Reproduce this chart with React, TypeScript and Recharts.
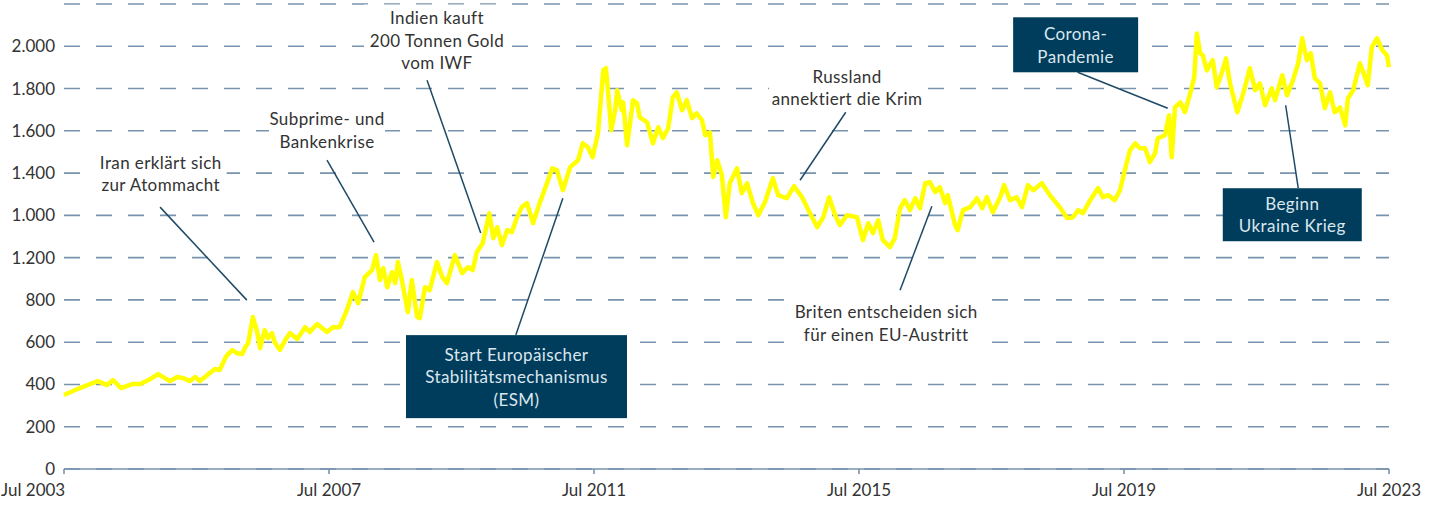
import React from "react";
import { LineChart, Line, XAxis, YAxis, CartesianGrid, ReferenceLine, ReferenceDot } from "recharts";

// decimal years (Jul 2003 = 2003.5)
const dates = [
  2003.5, 2003.74, 2003.94, 2004.01, 2004.15, 2004.24, 2004.36, 2004.53, 2004.65, 2004.8, 2004.92,
  2005.1, 2005.21, 2005.3, 2005.4, 2005.48, 2005.55, 2005.66, 2005.78, 2005.85, 2005.95,
  2006.04, 2006.11, 2006.19, 2006.23, 2006.28, 2006.35, 2006.41, 2006.46, 2006.53, 2006.58, 2006.64, 2006.68, 2006.76, 2006.84, 2006.91,
  2007.02, 2007.14, 2007.21, 2007.32, 2007.47, 2007.56, 2007.66, 2007.77, 2007.86, 2007.94,
  2008.04, 2008.15, 2008.21, 2008.27, 2008.32, 2008.38, 2008.45, 2008.5, 2008.54, 2008.6, 2008.69, 2008.75, 2008.83, 2008.87, 2008.95,
  2009.02, 2009.13, 2009.21, 2009.28, 2009.4, 2009.51, 2009.6, 2009.67, 2009.73, 2009.82, 2009.92, 2009.98,
  2010.04, 2010.11, 2010.19, 2010.26, 2010.34, 2010.41, 2010.49, 2010.58, 2010.68, 2010.79, 2010.87, 2010.94,
  2011.03, 2011.14, 2011.26, 2011.33, 2011.41, 2011.48, 2011.56, 2011.64, 2011.68, 2011.71, 2011.76, 2011.82, 2011.85, 2011.92, 2011.94,
  2012.0, 2012.09, 2012.15, 2012.19, 2012.3, 2012.39, 2012.47, 2012.54, 2012.62, 2012.69, 2012.75, 2012.83, 2012.9, 2012.98,
  2013.05, 2013.13, 2013.18, 2013.25, 2013.3, 2013.36, 2013.43, 2013.49, 2013.55, 2013.66, 2013.73, 2013.81, 2013.9, 2013.98,
  2014.08, 2014.2, 2014.28, 2014.41, 2014.52, 2014.64, 2014.76, 2014.87, 2014.96,
  2015.05, 2015.14, 2015.21, 2015.32, 2015.47, 2015.56, 2015.64, 2015.71, 2015.79, 2015.86, 2015.97,
  2016.04, 2016.12, 2016.19, 2016.27, 2016.35, 2016.42, 2016.5, 2016.57, 2016.65, 2016.72, 2016.8, 2016.84, 2016.95, 2016.99,
  2017.07, 2017.18, 2017.28, 2017.36, 2017.43, 2017.52, 2017.63, 2017.69, 2017.78, 2017.88, 2017.96,
  2018.05, 2018.13, 2018.26, 2018.38, 2018.53, 2018.64, 2018.73, 2018.81, 2018.88, 2018.99,
  2019.11, 2019.18, 2019.26, 2019.36, 2019.44, 2019.52, 2019.59, 2019.67, 2019.74, 2019.82, 2019.89, 2019.97,
  2020.01, 2020.12, 2020.18, 2020.22, 2020.27, 2020.35, 2020.42, 2020.5, 2020.56, 2020.6, 2020.65, 2020.69, 2020.75, 2020.84, 2020.9, 2020.98,
  2021.04, 2021.1, 2021.21, 2021.3, 2021.4, 2021.48, 2021.55, 2021.63, 2021.73, 2021.78, 2021.89, 2021.96,
  2022.05, 2022.13, 2022.19, 2022.26, 2022.32, 2022.38, 2022.46, 2022.53, 2022.61, 2022.68, 2022.76, 2022.84, 2022.88, 2022.96,
  2023.06, 2023.14, 2023.18, 2023.24, 2023.32, 2023.4, 2023.47, 2023.5,
];

const prices = [
  350, 383, 407, 416, 397, 421, 383, 402, 402, 425, 449,
  416, 435, 430, 416, 435, 416, 444, 473, 468, 534,
  563, 548, 544, 572, 596, 719, 657, 572, 657, 619, 643, 600, 563, 610, 643,
  615, 671, 648, 686, 648, 671, 671, 752, 837, 785,
  908, 941, 1012, 894, 950, 860, 931, 879, 979, 894, 742, 894, 719, 714, 860,
  846, 979, 908, 879, 1012, 927, 955, 941, 1026, 1068, 1210, 1092,
  1144, 1059, 1130, 1121, 1191, 1239, 1258, 1163, 1258, 1352, 1423, 1414,
  1319, 1428, 1461, 1541, 1522, 1475, 1589, 1886, 1896, 1792, 1603, 1697, 1792, 1697, 1735,
  1532, 1745, 1730, 1664, 1641, 1541, 1617, 1565, 1612, 1759, 1782, 1697, 1745, 1660,
  1683, 1650, 1579, 1593, 1381, 1461, 1390, 1191, 1352, 1423, 1305, 1352, 1258, 1201,
  1262, 1376, 1296, 1281, 1338, 1286, 1210, 1144, 1191,
  1286, 1201, 1154, 1201, 1191, 1083, 1163, 1116, 1177, 1083, 1050,
  1092, 1234, 1272, 1225, 1281, 1234, 1352, 1357, 1310, 1333, 1258, 1296, 1154, 1130,
  1225, 1239, 1281, 1234, 1286, 1215, 1286, 1343, 1272, 1286, 1239,
  1343, 1319, 1352, 1296, 1239, 1187, 1191, 1225, 1210, 1272,
  1329, 1286, 1296, 1272, 1319, 1423, 1508, 1541, 1518, 1518, 1452, 1494,
  1565, 1579, 1674, 1475, 1711, 1735, 1688, 1778, 1853, 2061, 1967, 1957, 1886, 1934, 1806, 1877,
  1943, 1825, 1688, 1778, 1896, 1792, 1825, 1721, 1801, 1745, 1863, 1768,
  1839, 1920, 2038, 1934, 1967, 1849, 1825, 1707, 1782, 1688, 1711, 1626, 1754, 1792,
  1920, 1853, 1816, 1995, 2038, 1981, 1957, 1901,
];

const yTicks = [0, 200, 400, 600, 800, 1000, 1200, 1400, 1600, 1800, 2000];
const yTickLabels = ["0", "200", "400", "600", "800", "1.200", "1.000", "1.400", "1.600", "1.800", "2.000"];
const xTicks = [2003.5, 2007.5, 2011.5, 2015.5, 2019.5, 2023.5];
const xTickLabels = ["Jul 2003", "Jul 2007", "Jul 2011", "Jul 2015", "Jul 2019", "Jul 2023"];

// annotations: text lines, anchor (center) in data coords, leader segment in data coords
const noteLines = [
  ["Iran erklärt sich", "zur Atommacht"],
  ["Subprime- und", "Bankenkrise"],
  ["Indien kauft", "200 Tonnen Gold", "vom IWF"],
  ["Start Europäischer", "Stabilitätsmechanismus", "(ESM)"],
  ["Russland", "annektiert die Krim"],
  ["Briten entscheiden sich", "für einen EU-Austritt"],
  ["Corona-", "Pandemie"],
  ["Beginn", "Ukraine Krieg"],
];
const noteX = [2004.96, 2007.47, 2009.13, 2010.33, 2015.32, 2015.91, 2018.77, 2022.04];
const noteY = [1397, 1603, 2028, 437, 1806, 690, 2007, 1203];
const noteBoxed = [false, false, false, true, false, false, true, true];
const leaderFromX = [2004.95, 2007.47, 2008.98, 2010.32, 2015.3, 2016.12, 2018.8, 2021.94];
const leaderFromY = [1239, 1461, 1839, 634, 1688, 846, 1877, 1721];
const leaderToX = [2006.26, 2008.18, 2009.79, 2011.03, 2014.61, 2016.6, 2020.16, 2022.13];
const leaderToY = [799, 1073, 1116, 1281, 1366, 1243, 1707, 1329];

const data = dates.map((t, i) => ({ t, price: prices[i] }));

const FONT = "Lato, 'Noto Sans', sans-serif";
const BOX_W = [0, 0, 0, 221, 0, 0, 125, 139];
const BOX_H = [0, 0, 0, 83, 0, 0, 55, 53];
const BG_W = [132, 116, 146, 0, 156, 184, 0, 0];

const NoteShape = (props: any) => {
  const { cx, cy, idx } = props;
  if (cx == null || cy == null) return null;
  const lines = noteLines[idx];
  const lh = 22.5;
  const boxed = noteBoxed[idx];
  const h = boxed ? BOX_H[idx] : lines.length * lh + 4;
  const w = boxed ? BOX_W[idx] : BG_W[idx];
  const top = -((lines.length - 1) * lh) / 2;
  return (
    <g>
      <rect x={cx - w / 2} y={cy - h / 2} width={w} height={h} fill={boxed ? "#003d5c" : "#ffffff"} />
      {lines.map((s, i) => (
        <text
          key={i}
          x={cx}
          y={cy + top + i * lh}
          textAnchor="middle"
          dominantBaseline="central"
          fontFamily={FONT}
          fontSize={17}
          letterSpacing={0.4}
          fill={boxed ? "#dbe6ee" : "#333333"}
        >
          {s}
        </text>
      ))}
    </g>
  );
};

const XTick = (props: any) => {
  const { x, y, payload, index } = props;
  const first = index === 0;
  return (
    <text
      x={first ? x - 63 : x}
      y={y + 20}
      textAnchor={first ? "start" : "middle"}
      fontFamily={FONT}
      fontSize={17}
      fill="#333333"
    >
      {xTickLabels[xTicks.indexOf(payload.value)]}
    </text>
  );
};

export default function App() {
  return (
    <div style={{ position: "absolute", left: 0, top: 0, width: 1438, height: 506, background: "#fff" }}>
      <LineChart
        width={1438}
        height={506}
        data={data}
        margin={{ top: 4, right: 49, bottom: 7, left: 0 }}
        style={{ fontFamily: FONT }}
      >
        <CartesianGrid
          horizontal
          vertical={false}
          stroke="#7893ad"
          strokeWidth={1.6}
          strokeDasharray="16 16"
        />
        <XAxis
          dataKey="t"
          type="number"
          domain={[2003.5, 2023.5]}
          ticks={xTicks}
          height={30}
          stroke="#7893ad"
          strokeWidth={1.6}
          tickSize={5}
          tick={<XTick />}
          interval={0}
        />
        <YAxis
          type="number"
          domain={[0, 2200]}
          ticks={yTicks}
          width={64}
          axisLine={false}
          tickLine={false}
          tickMargin={3}
          interval={0}
          tick={{ fill: "#333333", fontSize: 17, fontFamily: FONT }}
          tickFormatter={(v: number) => yTickLabels[yTicks.indexOf(v)]}
        />
        <Line
          type="linear"
          dataKey="price"
          stroke="#ffff00"
          strokeWidth={4.5}
          dot={false}
          isAnimationActive={false}
          strokeLinejoin="round"
        />
        {noteLines.map((_, i) => (
          <ReferenceLine
            key={"l" + i}
            segment={[
              { x: leaderFromX[i], y: leaderFromY[i] },
              { x: leaderToX[i], y: leaderToY[i] },
            ]}
            stroke="#1f4a66"
            strokeWidth={1.5}
            ifOverflow="visible"
          />
        ))}
        {noteLines.map((_, i) => (
          <ReferenceDot
            key={"d" + i}
            x={noteX[i]}
            y={noteY[i]}
            r={0}
            ifOverflow="visible"
            shape={(p: any) => <NoteShape {...p} idx={i} />}
          />
        ))}
      </LineChart>
    </div>
  );
}
